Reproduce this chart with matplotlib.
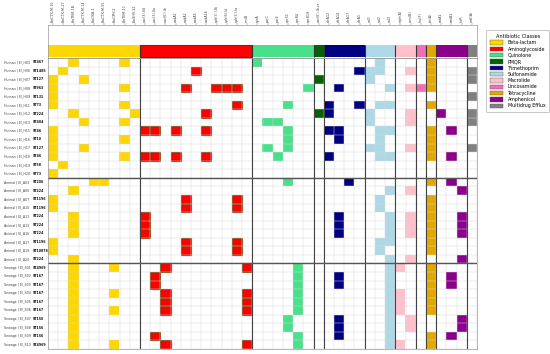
import numpy as np
import matplotlib
matplotlib.use("Agg")
import matplotlib.pyplot as plt
import matplotlib.transforms as mtransforms
from matplotlib.colors import ListedColormap
from matplotlib.patches import Patch, Rectangle

# antibiotic classes, their colours and how many gene columns each one has
classes = ["Beta-lactam", "Aminoglycoside", "Quinolone", "PMQR", "Trimethoprim",
           "Sulfonamide", "Macrolide", "Lincosamide", "Tetracycline", "Amphenicol",
           "Multidrug Efflux"]
class_colors = ["#FFD700", "#FF0000", "#48E08A", "#006400", "#000080", "#ADD8E6",
                "#FFC0CB", "#F06EB4", "#E3A800", "#8B008B", "#808080"]
class_sizes = [9, 11, 6, 1, 4, 3, 2, 1, 1, 3, 1]

genes = ["blaCTX-M-15", "blaCTX-M-27", "blaTEM-1B", "blaCTX-M-14", "blaOXA-1",
         "blaCTX-M-55", "blaCMY-2", "blaTEM-1C", "blaSHV-12",
         "aac(3)-IId", "aac(3)-IIa", "aac(6')-Ib", "aadA1", "aadA2", "aadA5",
         "aadA16", "aph(3'')-Ib", "aph(6)-Id", "aph(3')-Ia", "rmtB",
         "gyrA", "parC", "parE", "qnrS1", "qnrB4", "qnrB19",
         "aac(6')-Ib-cr",
         "dfrA12", "dfrA14", "dfrA17", "dfrA1",
         "sul1", "sul2", "sul3",
         "mph(A)", "erm(B)",
         "lnu(F)",
         "tet(A)",
         "catA1", "cmlA1", "floR",
         "mdf(A)"]

# samples: source | isolate id, sequence type
human_ids = ["EI_H03", "EI_H06", "EI_H07", "EI_H08", "EI_H09", "EI_H11", "EI_H12",
             "EI_H13", "EI_H15", "EI_H16", "EI_H17", "EI_H18", "EI_H19", "EI_H20"]
human_st = ["ST467", "ST1485", "ST127", "ST963", "ST131", "ST73", "ST224",
            "ST404", "ST46", "ST10", "ST127", "ST46", "ST58", "ST73"]
animal_ids = ["EI_A03", "EI_A06", "EI_A07", "EI_A10", "EI_A11", "EI_A13",
              "EI_A16", "EI_A17", "EI_A19", "EI_A20"]
animal_st = ["ST206", "ST224", "ST1196", "ST1196", "ST224", "ST224", "ST224",
             "ST1196", "ST10878", "ST224"]
sewage_ids = ["EI_S01", "EI_S02", "EI_S03", "EI_S04", "EI_S05", "EI_S06",
              "EI_S07", "EI_S08", "EI_S09", "EI_S10"]
sewage_st = ["ST4969", "ST167", "ST167", "ST167", "ST167", "ST167", "ST156",
             "ST156", "ST156", "ST4969"]

# genes found in each isolate (column indices into genes)
human_hits = [
    [2, 7, 20, 32, 37],
    [1, 14, 30, 31, 32, 35, 37, 41],
    [0, 3, 26, 31, 37, 41],
    [0, 7, 13, 16, 17, 18, 25, 28, 33, 35, 36, 37],
    [0, 41],
    [0, 7, 18, 23, 27, 30, 32, 33, 37],
    [2, 8, 15, 26, 27, 31, 35, 38, 41],
    [3, 7, 21, 22, 31, 35, 41],
    [0, 9, 10, 12, 15, 23, 27, 28, 32, 33, 37, 39],
    [0, 7, 23, 28, 32, 37],
    [0, 3, 21, 23, 31, 32, 35, 37, 41],
    [0, 7, 9, 10, 12, 15, 22, 27, 32, 33, 37, 39],
    [1],
    [0],
]
animal_hits = [
    [4, 5, 23, 29, 37, 39],
    [2, 33, 35, 40],
    [0, 13, 18, 32, 37],
    [0, 13, 18, 32, 37],
    [2, 9, 28, 33, 35, 37, 40],
    [2, 9, 28, 33, 35, 37, 40],
    [2, 9, 28, 33, 35, 37, 40],
    [0, 13, 18, 32, 33, 37],
    [0, 13, 18, 32, 37],
    [2, 33, 35, 40],
]
sewage_hits = [
    [2, 6, 11, 19, 24, 33, 34, 37],
    [2, 10, 24, 28, 33, 37, 39],
    [2, 10, 24, 28, 33, 37, 39],
    [2, 6, 11, 19, 24, 33, 34, 37],
    [2, 11, 19, 24, 33, 34, 37],
    [2, 6, 11, 19, 24, 33, 34, 37],
    [2, 23, 28, 33, 35, 40],
    [2, 23, 28, 33, 35, 40],
    [2, 10, 24, 28, 33, 37, 39],
    [2, 6, 11, 19, 24, 33, 34, 37],
]

sources = ["Human"] * len(human_ids) + ["Animal"] * len(animal_ids) + ["Sewage"] * len(sewage_ids)
ids = human_ids + animal_ids + sewage_ids
sts = human_st + animal_st + sewage_st
hits = human_hits + animal_hits + sewage_hits

gene_class = np.repeat(np.arange(len(classes)), class_sizes)
n_rows, n_cols = len(ids), len(genes)
mat = np.zeros((n_rows, n_cols))
for r, row in enumerate(hits):
    for g in row:
        mat[r, g] = gene_class[g] + 1

W, H = 550, 354
fig = plt.figure(figsize=(W / 100, H / 100), dpi=100)

# main grid
ax = fig.add_axes([48 / W, 1 - 349 / H, 429 / W, 291 / H])
cmap = ListedColormap(["white"] + class_colors)
ax.imshow(mat, cmap=cmap, vmin=-0.5, vmax=len(classes) + 0.5, aspect="auto",
          interpolation="nearest")
ax.set_xticks(np.arange(n_cols + 1) - 0.5, minor=True)
ax.set_yticks(np.arange(n_rows + 1) - 0.5, minor=True)
ax.set_xticks([])
ax.set_yticks([])
ax.grid(which="minor", color="#d9d9d9", lw=0.35)
ax.tick_params(which="both", length=0)
for s in ax.spines.values():
    s.set_color("#999999")
    s.set_linewidth(0.5)

# dark edge round aminoglycoside hits
for r, row in enumerate(hits):
    for g in row:
        if gene_class[g] == 1:
            ax.add_patch(Rectangle((g - 0.5, r - 0.5), 1, 1, fill=False,
                                   edgecolor="#8B3000", lw=0.8))

bounds = np.cumsum(class_sizes)[:-1] - 0.5
for b in bounds:
    ax.axvline(b, color="#444444", lw=0.8)
for b in [len(human_ids) - 0.5, len(human_ids) + len(animal_ids) - 0.5]:
    ax.axhline(b, color="#555555", lw=1.0)
ax.set_xlim(-0.5, n_cols - 0.5)
ax.set_ylim(n_rows - 0.5, -0.5)

# row labels
tr = mtransforms.blended_transform_factory(fig.transFigure, ax.transData)
for r in range(n_rows):
    ax.text(4 / W, r, f"{sources[r]} | {ids[r]}", transform=tr, fontsize=2.3,
            va="center", ha="left", color="#444444")
    ax.text(33 / W, r, sts[r], transform=tr, fontsize=2.3, va="center",
            ha="left", color="#111111", fontweight="bold")

# class band above the grid
hx = fig.add_axes([48 / W, 1 - 58 / H, 429 / W, 33 / H])
hx.imshow(gene_class[None, :], cmap=ListedColormap(class_colors),
          vmin=-0.5, vmax=len(classes) - 0.5, aspect="auto",
          extent=(-0.5, n_cols - 0.5, 32, 20), interpolation="nearest")
hx.vlines(bounds, 20, 32, color="#333333", lw=0.8)
hx.add_patch(Rectangle((8.5, 20), 11, 12, fill=False, edgecolor="#7A2A00", lw=0.8))
hx.set_xlim(-0.5, n_cols - 0.5)
hx.set_ylim(33, 0)
hx.xaxis.tick_top()
hx.set_xticks(np.arange(n_cols))
hx.set_xticklabels(genes, rotation=90, fontsize=2.4, color="#444444")
hx.set_yticks([])
hx.tick_params(axis="x", length=1.2, width=0.3, pad=0.8, color="#666666")
for s in hx.spines.values():
    s.set_color("#999999")
    s.set_linewidth(0.5)

handles = [Patch(facecolor=c, edgecolor="#555555", lw=0.3) for c in class_colors]
leg = fig.legend(handles, classes, loc="upper left",
                 bbox_to_anchor=(484 / W, 1 - 28 / H), fontsize=3.4,
                 title="Antibiotic Classes", title_fontsize=3.6, frameon=True,
                 handlelength=2.8, handleheight=1.0, labelspacing=0.28,
                 borderpad=0.75, handletextpad=1.0, fancybox=True)
leg.get_frame().set_edgecolor("#999999")
leg.get_frame().set_linewidth(0.5)

fig.savefig("out.png", dpi=100)
